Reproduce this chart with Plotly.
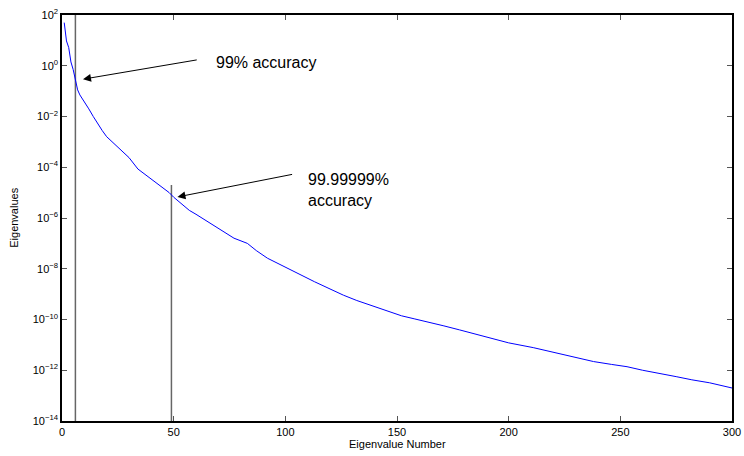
import plotly.graph_objects as go

# Eigenvalue index and value
eig_index = [1, 2, 3, 4, 5, 6, 7, 8, 10, 12, 14, 16, 18, 20, 22, 25, 28, 30, 34, 38,
             42, 45, 48, 50, 54, 57, 60, 63, 67, 72, 77, 83, 87, 92, 98, 104, 108, 113,
             120, 126, 132, 138, 145, 152, 158, 164, 171, 178, 186, 193, 200, 211, 218,
             223, 232, 238, 246, 253, 260, 268, 275, 282, 290, 300]
eig_value = [50.1, 9.5, 5.25, 1.41, 0.71, 0.28, 0.112, 0.0708, 0.0398, 0.02, 1e-2, 5e-3,
             2.8e-3, 1.6e-3, 1.1e-3, 6e-4, 3.3e-4, 2.4e-4, 8.5e-5, 4.5e-5, 2.6e-5, 1.6e-5,
             1e-5, 6.6e-6, 3.5e-6, 2.0e-6, 1.4e-6, 9.5e-7, 5.6e-7, 2.9e-7, 1.6e-7, 1.0e-7,
             5.2e-8, 2.6e-8, 1.4e-8, 7.6e-9, 5.0e-9, 3.1e-9, 1.6e-9, 9.1e-10, 5.6e-10,
             3.7e-10, 2.4e-10, 1.4e-10, 1.05e-10, 8.1e-11, 5.6e-11, 3.9e-11, 2.5e-11,
             1.66e-11, 1.2e-11, 7.8e-12, 5.6e-12, 4.4e-12, 2.95e-12, 2.2e-12, 1.7e-12,
             1.38e-12, 1.0e-12, 7.6e-13, 5.6e-13, 4.2e-13, 3.2e-13, 2.0e-13]

# cutoff markers (index, top value)
cut_index = [6, 49]
cut_top = [1e2, 2e-5]
cut_bottom = 1e-14

x_ticks = [0, 50, 100, 150, 200, 250, 300]
y_ticks = [1e2, 1e0, 1e-2, 1e-4, 1e-6, 1e-8, 1e-10, 1e-12, 1e-14]
y_tick_text = ["10<sup>2</sup>", "10<sup>0</sup>", "10<sup>−2</sup>", "10<sup>−4</sup>",
               "10<sup>−6</sup>", "10<sup>−8</sup>", "10<sup>−10</sup>", "10<sup>−12</sup>",
               "10<sup>−14</sup>"]

font = "Liberation Sans, Arial, sans-serif"

fig = go.Figure()
for ci, ct in zip(cut_index, cut_top):
    fig.add_trace(go.Scatter(x=[ci, ci], y=[cut_bottom, ct], mode="lines",
                             line=dict(color="#666666", width=1.5), showlegend=False,
                             hoverinfo="skip"))
fig.add_trace(go.Scatter(x=eig_index, y=eig_value, mode="lines",
                         line=dict(color="#0000ff", width=1), showlegend=False))

# arrows (tail/tip in axis units; y in log10 units)
fig.add_annotation(x=9.4, y=-0.53, ax=61, ay=0.24, axref="x", ayref="y", xref="x", yref="y",
                   text="", showarrow=True, arrowhead=2, arrowsize=1.6, arrowwidth=1,
                   arrowcolor="black")
fig.add_annotation(x=51.7, y=-5.17, ax=103.7, ay=-4.27, axref="x", ayref="y", xref="x", yref="y",
                   text="", showarrow=True, arrowhead=2, arrowsize=1.6, arrowwidth=1,
                   arrowcolor="black")
fig.add_annotation(x=68.2, y=0.14, xref="x", yref="y", text="99% accuracy", showarrow=False,
                   xanchor="left", yanchor="middle", font=dict(family=font, size=16, color="black"))
fig.add_annotation(x=109.3, y=-4.88, xref="x", yref="y", text="99.99999%<br>accuracy",
                   showarrow=False, xanchor="left", yanchor="middle", align="left",
                   font=dict(family=font, size=16, color="black"))

# axis titles
fig.add_annotation(x=0.5, y=-0.057, xref="paper", yref="paper", text="Eigenvalue Number",
                   showarrow=False, xanchor="center", yanchor="middle",
                   font=dict(family=font, size=11, color="black"))
fig.add_annotation(x=-0.072, y=0.5, xref="paper", yref="paper", text="Eigenvalues",
                   showarrow=False, xanchor="center", yanchor="middle", textangle=-90,
                   font=dict(family=font, size=11, color="black"))

fig.update_layout(
    width=744, height=456,
    margin=dict(l=62, r=12, t=15, b=35),
    paper_bgcolor="white", plot_bgcolor="white",
    font=dict(family=font, size=11, color="black"),
    xaxis=dict(range=[0, 300], tickvals=x_ticks, ticks="inside", ticklen=5,
               tickcolor="#555", showline=True, linecolor="black", linewidth=1.5,
               mirror="ticks", showgrid=False, zeroline=False, automargin=False,
               ticklabeloverflow="allow"),
    yaxis=dict(type="log", range=[-14, 2], tickvals=y_ticks, ticktext=y_tick_text,
               ticks="inside", ticklen=5, tickcolor="#555",
               showline=True, linecolor="black", linewidth=1.5, mirror="ticks",
               showgrid=False, zeroline=False, automargin=False,
               ticklabeloverflow="allow"),
)

fig.write_html("out.html", config={"displayModeBar": False},
               post_script="document.body.style.margin='0';")
